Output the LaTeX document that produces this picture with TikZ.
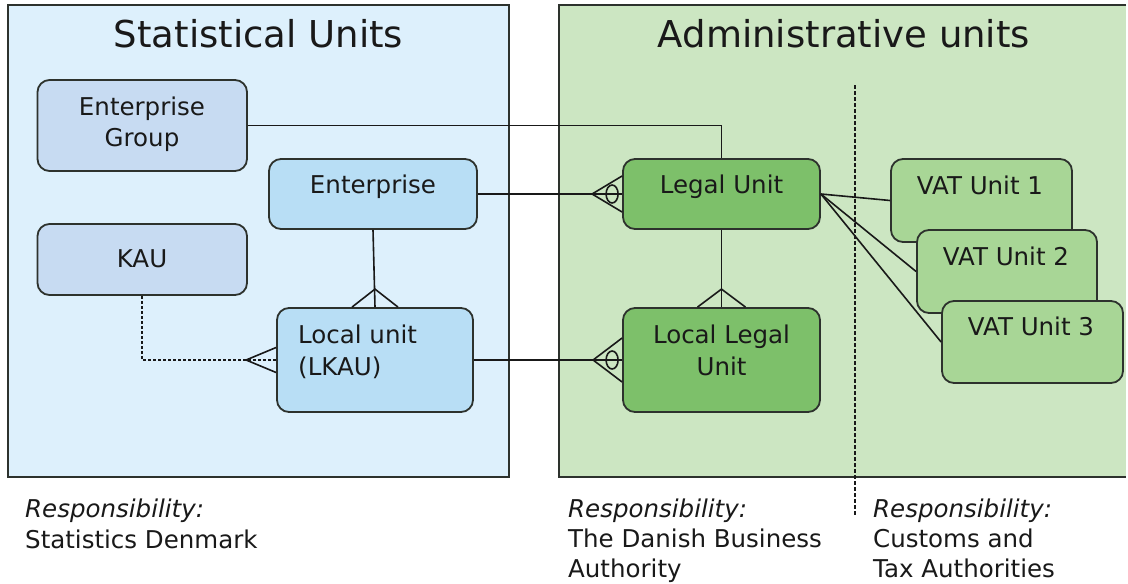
\documentclass[tikz,border=0pt]{standalone}
\usepackage{fontspec}
\setmainfont{DejaVu Sans}
\usetikzlibrary{calc}
\definecolor{leftbg}{RGB}{221,240,252}
\definecolor{rightbg}{RGB}{204,230,194}
\definecolor{egfill}{RGB}{199,219,242}
\definecolor{entfill}{RGB}{184,222,245}
\definecolor{lufill}{RGB}{125,192,106}
\definecolor{vatfill}{RGB}{168,214,150}
\definecolor{bord}{RGB}{45,50,45}
\definecolor{ink}{RGB}{25,25,25}
\begin{document}
\begin{tikzpicture}[x=1pt,y=-1pt,
  box/.style={draw=bord, line width=1.8pt, rounded corners=12pt, inner sep=0pt},
  txt/.style={anchor=base, inner sep=0pt, font=\fontsize{24.5}{31}\selectfont, text=ink},
  ltxt/.style={txt, anchor=base west},
  ttl/.style={anchor=base, inner sep=0pt, font=\fontsize{37}{44}\selectfont, text=ink},
  conn/.style={draw=ink, line width=1.6pt},
  dashconn/.style={conn, dash pattern=on 3pt off 2pt},
  divider/.style={draw=ink, line width=1.2pt, dash pattern=on 4pt off 2pt},
  panelborder/.style={draw=bord, line width=2.2pt}]
\useasboundingbox (0,0) rectangle (1128,584);
\fill[white] (0,0) rectangle (1128,584);
% panels
\fill[leftbg] (8,5) rectangle (509,477);
\draw[panelborder] (8,5) rectangle (509,477);
\fill[rightbg] (559,5) rectangle (1126,477);
\draw[panelborder] (1126,5) -- (559,5) -- (559,477) -- (1126,477);
\node[ttl] (t1) at (258.5,47) {Statistical Units};
\node[ttl] (t2) at (844,47) {Administrative units};
% divider
\coordinate (d1) at (855,85);
\coordinate (d2) at (855,515);
\draw[divider] (d1) -- (d2);
% boxes
\node[box, fill=egfill, minimum width=209.5pt, minimum height=91pt] (eg) at (142.25,125.5) {};
\node[box, fill=entfill, minimum width=208pt, minimum height=70pt] (ent) at (373,194) {};
\node[box, fill=egfill, minimum width=209.5pt, minimum height=71pt] (kau) at (142.25,259.5) {};
\node[box, fill=entfill, minimum width=196pt, minimum height=104pt] (lkau) at (375,360) {};
\node[box, fill=lufill, minimum width=197pt, minimum height=70pt] (lu) at (721.5,194) {};
\node[box, fill=lufill, minimum width=197pt, minimum height=104pt] (llu) at (721.5,360) {};
% connectors
\draw[conn] (eg.east) -| (lu.north);
\draw[conn] (ent.east) -- (ent.east -| lu.west);
\draw[conn] ($(lu.west)+(0,-18)$) -- ($(lu.west)+(-30,0)$) -- ($(lu.west)+(0,18)$);
\draw[conn] ($(lu.west)+(-10,0)$) ellipse [x radius=6pt, y radius=9pt];
\draw[conn] (ent.south) -- (lkau.north);
\draw[conn] ($(lkau.north)+(-23,0)$) -- ($(lkau.north)+(0,-18)$) -- ($(lkau.north)+(23,0)$);
\draw[conn] (lu.south) -- (llu.north);
\draw[conn] ($(llu.north)+(-24,0)$) -- ($(llu.north)+(0,-18)$) -- ($(llu.north)+(24,0)$);
\draw[conn] (lkau.east) -- (lkau.east -| llu.west);
\draw[conn] ($(llu.west)+(0,-22)$) -- ($(llu.west)+(-29,0)$) -- ($(llu.west)+(0,22)$);
\draw[conn] ($(llu.west)+(-10,0)$) ellipse [x radius=6pt, y radius=9pt];
\draw[dashconn] (kau.south) |- (lkau.west);
\draw[conn] ($(lkau.west)+(0,-12.5)$) -- ($(lkau.west)+(-30,0)$) -- ($(lkau.west)+(0,12.5)$);
% VAT units
\node[box, fill=vatfill, minimum width=181pt, minimum height=83pt] (vat1) at (981.5,200.5) {};
\node[box, fill=vatfill, minimum width=180pt, minimum height=83pt] (vat2) at (1007,271.5) {};
\node[box, fill=vatfill, minimum width=181pt, minimum height=82pt] (vat3) at (1032.5,342) {};
\draw[conn] (lu.east) -- (vat1.west);
\draw[conn] (lu.east) -- (vat2.west);
\draw[conn] (lu.east) -- (vat3.west);
% texts
\node[txt] (egt1) at (142,115) {Enterprise};
\node[txt] (egt2) at (142,146) {Group};
\node[txt] (entt) at (373,193) {Enterprise};
\node[txt] (kaut) at (142,267) {KAU};
\node[ltxt] (lkt1) at (298,343) {Local unit};
\node[ltxt] (lkt2) at (298,375) {(LKAU)};
\node[txt] (lut) at (721.5,193) {Legal Unit};
\node[txt] (llt1) at (721.5,343) {Local Legal};
\node[txt] (llt2) at (721.5,375) {Unit};
\node[txt] (v1t) at (980,194) {VAT Unit 1};
\node[txt] (v2t) at (1006,265) {VAT Unit 2};
\node[txt] (v3t) at (1031,335) {VAT Unit 3};
% responsibilities
\node[ltxt] (r1a) at (25,517) {\itshape Responsibility:};
\node[ltxt] (r1b) at (25,548) {Statistics Denmark};
\node[ltxt] (r2a) at (568,517) {\itshape Responsibility:};
\node[ltxt] (r2b) at (568,547) {The Danish Business};
\node[ltxt] (r2c) at (568,577) {Authority};
\node[ltxt] (r3a) at (873,517) {\itshape Responsibility:};
\node[ltxt] (r3b) at (873,547) {Customs and};
\node[ltxt] (r3c) at (873,577) {Tax Authorities};
\end{tikzpicture}
\end{document}
